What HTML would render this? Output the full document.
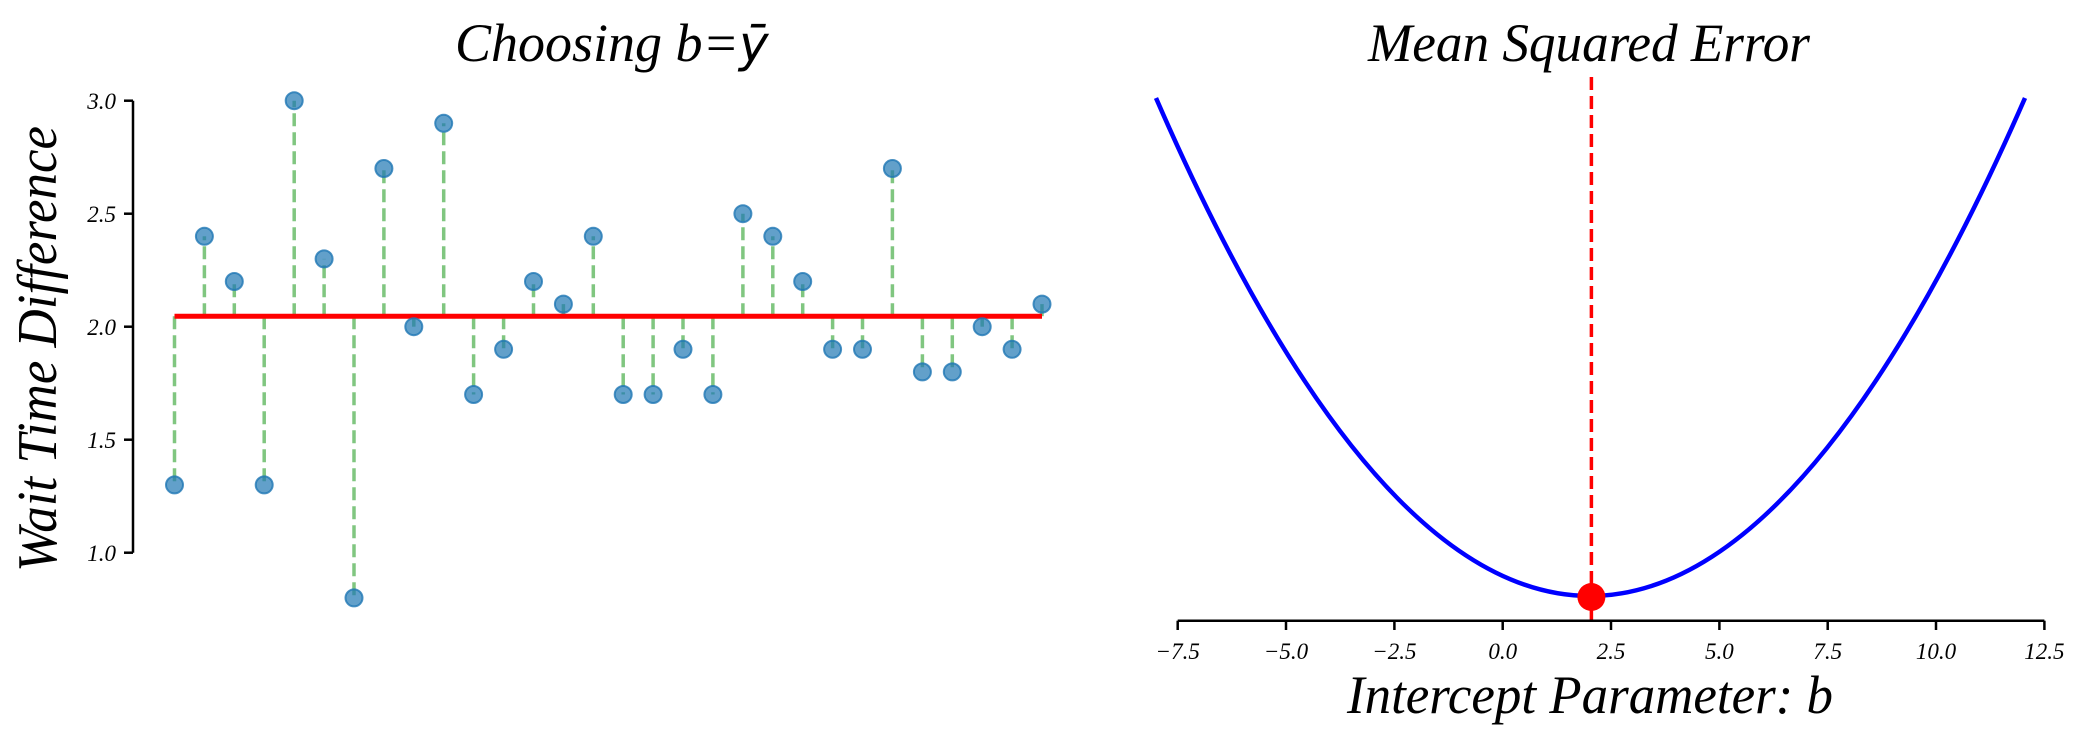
<!DOCTYPE html>
<html><head><meta charset="utf-8"><style>
html,body{margin:0;padding:0;background:#fff;}
svg{display:block;}
text{font-family:"Liberation Serif",serif;font-style:italic;fill:#000;}
</style></head><body>
<svg width="2087" height="745" viewBox="0 0 2087 745" xmlns="http://www.w3.org/2000/svg">
<text x="455" y="61" font-size="54">Choosing b=<tspan font-family="DejaVu Sans, sans-serif" font-style="oblique" font-size="50">ȳ</tspan></text>
<text transform="translate(56,349) rotate(-90)" text-anchor="middle" font-size="56" textLength="446" lengthAdjust="spacingAndGlyphs">Wait Time Difference</text>
<line x1="133" y1="100.7" x2="133" y2="552.7" stroke="#000" stroke-width="2.5"/>
<g stroke="#000" stroke-width="2.5">
<line x1="124" y1="100.7" x2="133" y2="100.7"/>
<line x1="124" y1="213.7" x2="133" y2="213.7"/>
<line x1="124" y1="326.7" x2="133" y2="326.7"/>
<line x1="124" y1="439.7" x2="133" y2="439.7"/>
<line x1="124" y1="552.7" x2="133" y2="552.7"/>
</g>
<g font-size="23" text-anchor="end">
<text x="116" y="109">3.0</text>
<text x="116" y="222">2.5</text>
<text x="116" y="335">2.0</text>
<text x="116" y="448">1.5</text>
<text x="116" y="561">1.0</text>
</g>
<g stroke="#2ca02c" stroke-opacity="0.6" stroke-width="3.5" stroke-dasharray="13,6">
<line x1="174.5" y1="316.2" x2="174.5" y2="484.9"/>
<line x1="204.4" y1="316.2" x2="204.4" y2="236.3"/>
<line x1="234.3" y1="316.2" x2="234.3" y2="281.5"/>
<line x1="264.2" y1="316.2" x2="264.2" y2="484.9"/>
<line x1="294.2" y1="316.2" x2="294.2" y2="100.7"/>
<line x1="324.1" y1="316.2" x2="324.1" y2="258.9"/>
<line x1="354.0" y1="316.2" x2="354.0" y2="597.9"/>
<line x1="383.9" y1="316.2" x2="383.9" y2="168.5"/>
<line x1="413.8" y1="316.2" x2="413.8" y2="326.7"/>
<line x1="443.7" y1="316.2" x2="443.7" y2="123.3"/>
<line x1="473.6" y1="316.2" x2="473.6" y2="394.5"/>
<line x1="503.6" y1="316.2" x2="503.6" y2="349.3"/>
<line x1="533.5" y1="316.2" x2="533.5" y2="281.5"/>
<line x1="563.4" y1="316.2" x2="563.4" y2="304.1"/>
<line x1="593.3" y1="316.2" x2="593.3" y2="236.3"/>
<line x1="623.2" y1="316.2" x2="623.2" y2="394.5"/>
<line x1="653.1" y1="316.2" x2="653.1" y2="394.5"/>
<line x1="683.0" y1="316.2" x2="683.0" y2="349.3"/>
<line x1="712.9" y1="316.2" x2="712.9" y2="394.5"/>
<line x1="742.9" y1="316.2" x2="742.9" y2="213.7"/>
<line x1="772.8" y1="316.2" x2="772.8" y2="236.3"/>
<line x1="802.7" y1="316.2" x2="802.7" y2="281.5"/>
<line x1="832.6" y1="316.2" x2="832.6" y2="349.3"/>
<line x1="862.5" y1="316.2" x2="862.5" y2="349.3"/>
<line x1="892.4" y1="316.2" x2="892.4" y2="168.5"/>
<line x1="922.4" y1="316.2" x2="922.4" y2="371.9"/>
<line x1="952.3" y1="316.2" x2="952.3" y2="371.9"/>
<line x1="982.2" y1="316.2" x2="982.2" y2="326.7"/>
<line x1="1012.1" y1="316.2" x2="1012.1" y2="349.3"/>
<line x1="1042.0" y1="316.2" x2="1042.0" y2="304.1"/>
</g>
<line x1="174.5" y1="316.2" x2="1042" y2="316.2" stroke="#ff0000" stroke-width="5"/>
<g fill="#1f77b4" fill-opacity="0.7" stroke="#1f77b4" stroke-width="2" stroke-opacity="0.8">
<circle cx="174.5" cy="484.9" r="8.5"/>
<circle cx="204.4" cy="236.3" r="8.5"/>
<circle cx="234.3" cy="281.5" r="8.5"/>
<circle cx="264.2" cy="484.9" r="8.5"/>
<circle cx="294.2" cy="100.7" r="8.5"/>
<circle cx="324.1" cy="258.9" r="8.5"/>
<circle cx="354.0" cy="597.9" r="8.5"/>
<circle cx="383.9" cy="168.5" r="8.5"/>
<circle cx="413.8" cy="326.7" r="8.5"/>
<circle cx="443.7" cy="123.3" r="8.5"/>
<circle cx="473.6" cy="394.5" r="8.5"/>
<circle cx="503.6" cy="349.3" r="8.5"/>
<circle cx="533.5" cy="281.5" r="8.5"/>
<circle cx="563.4" cy="304.1" r="8.5"/>
<circle cx="593.3" cy="236.3" r="8.5"/>
<circle cx="623.2" cy="394.5" r="8.5"/>
<circle cx="653.1" cy="394.5" r="8.5"/>
<circle cx="683.0" cy="349.3" r="8.5"/>
<circle cx="712.9" cy="394.5" r="8.5"/>
<circle cx="742.9" cy="213.7" r="8.5"/>
<circle cx="772.8" cy="236.3" r="8.5"/>
<circle cx="802.7" cy="281.5" r="8.5"/>
<circle cx="832.6" cy="349.3" r="8.5"/>
<circle cx="862.5" cy="349.3" r="8.5"/>
<circle cx="892.4" cy="168.5" r="8.5"/>
<circle cx="922.4" cy="371.9" r="8.5"/>
<circle cx="952.3" cy="371.9" r="8.5"/>
<circle cx="982.2" cy="326.7" r="8.5"/>
<circle cx="1012.1" cy="349.3" r="8.5"/>
<circle cx="1042.0" cy="304.1" r="8.5"/>
</g>

<text x="1589" y="61" font-size="54" text-anchor="middle" textLength="442" lengthAdjust="spacingAndGlyphs">Mean Squared Error</text>
<path d="M1156,98 Q1589.3,1094 2025,98" fill="none" stroke="#0000ff" stroke-width="4.5"/>
<line x1="1591.4" y1="77" x2="1591.4" y2="620" stroke="#ff0000" stroke-width="3.5" stroke-dasharray="13,6"/>
<circle cx="1591.4" cy="597" r="14" fill="#ff0000"/>
<line x1="1177.7" y1="620.7" x2="2044.4" y2="620.7" stroke="#000" stroke-width="2.5"/>
<g stroke="#000" stroke-width="2.5">
<line x1="1177.7" y1="620.7" x2="1177.7" y2="630"/>
<line x1="1286" y1="620.7" x2="1286" y2="630"/>
<line x1="1394.4" y1="620.7" x2="1394.4" y2="630"/>
<line x1="1502.7" y1="620.7" x2="1502.7" y2="630"/>
<line x1="1611" y1="620.7" x2="1611" y2="630"/>
<line x1="1719.4" y1="620.7" x2="1719.4" y2="630"/>
<line x1="1827.7" y1="620.7" x2="1827.7" y2="630"/>
<line x1="1936" y1="620.7" x2="1936" y2="630"/>
<line x1="2044.4" y1="620.7" x2="2044.4" y2="630"/>
</g>
<g font-size="23" text-anchor="middle">
<text x="1177.7" y="659">−7.5</text>
<text x="1286" y="659">−5.0</text>
<text x="1394.4" y="659">−2.5</text>
<text x="1502.7" y="659">0.0</text>
<text x="1611" y="659">2.5</text>
<text x="1719.4" y="659">5.0</text>
<text x="1827.7" y="659">7.5</text>
<text x="1936" y="659">10.0</text>
<text x="2044.4" y="659">12.5</text>
</g>
<text x="1590" y="713" font-size="54" text-anchor="middle" textLength="486" lengthAdjust="spacingAndGlyphs">Intercept Parameter: b</text>
</svg>
</body></html>
